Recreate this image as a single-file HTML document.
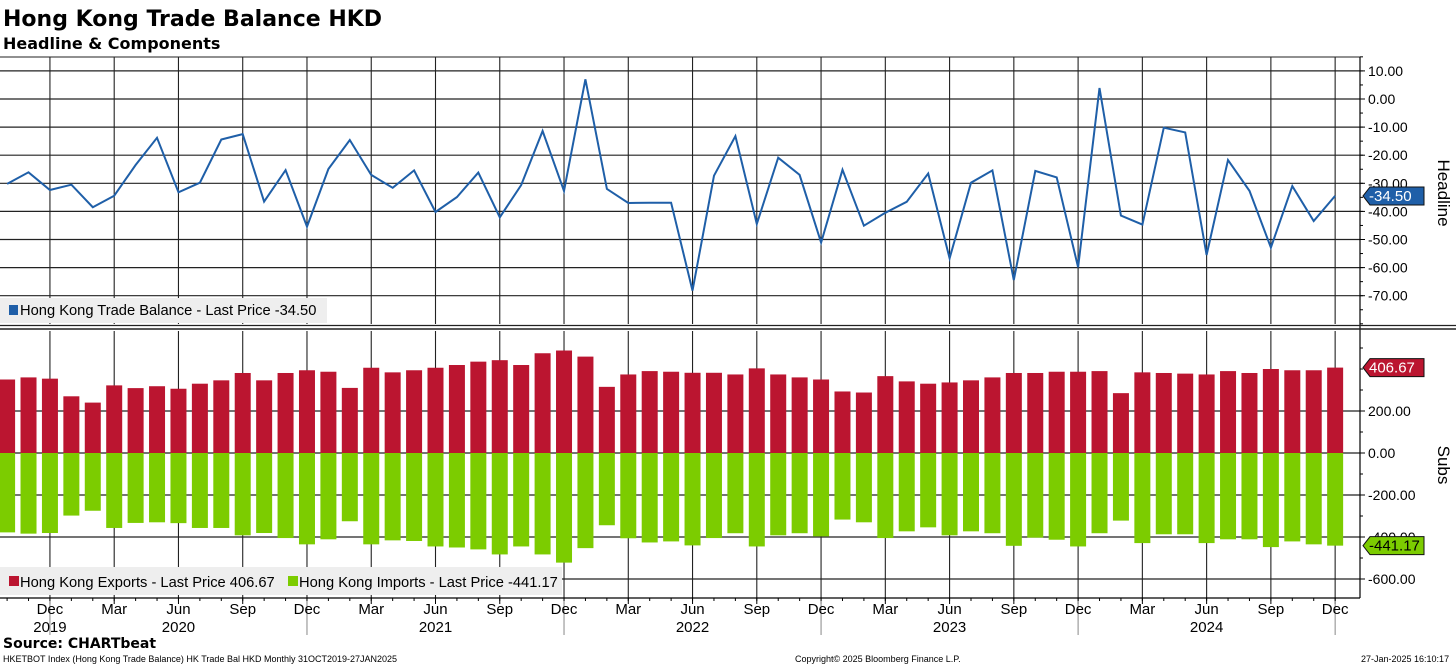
<!DOCTYPE html>
<html><head><meta charset="utf-8"><style>
html,body{margin:0;padding:0;background:#fff;}
svg{display:block;font-family:"Liberation Sans","DejaVu Sans",sans-serif;}
</style></head><body>
<svg id="chart" width="1456" height="665" viewBox="0 0 1456 665">
<text x="3" y="26" font-size="22" font-weight="bold" fill="#000" style="font-family:'DejaVu Sans',sans-serif">Hong Kong Trade Balance HKD</text>
<text x="3" y="49" font-size="16" font-weight="bold" fill="#000" style="font-family:'DejaVu Sans',sans-serif">Headline &amp; Components</text>
<g id="grid"></g>
<g id="bars"></g>
<g id="line"></g>
<g id="axes"></g>
<g>
<rect x="0" y="298" width="327" height="25" fill="#eeeeee"/>
<rect x="9" y="305" width="9" height="10" fill="#1f5fa8"/>
<text x="20" y="315" font-size="14.7" fill="#000">Hong Kong Trade Balance - Last Price -34.50</text>
</g>
<g>
<rect x="0" y="567" width="562" height="28" fill="#eeeeee"/>
<rect x="9" y="576" width="10" height="10" fill="#bb1530"/>
<text x="20" y="587" font-size="14.7" fill="#000">Hong Kong Exports - Last Price 406.67</text>
<rect x="288" y="576" width="10" height="10" fill="#7ccc00"/>
<text x="299" y="587" font-size="14.7" fill="#000">Hong Kong Imports - Last Price -441.17</text>
</g>
<text x="3" y="648" font-size="14" font-weight="bold" fill="#000" style="font-family:'DejaVu Sans',sans-serif">Source: CHARTbeat</text>
<text x="3" y="662" font-size="9" fill="#000">HKETBOT Index (Hong Kong Trade Balance) HK Trade Bal HKD  Monthly 31OCT2019-27JAN2025</text>
<text x="795" y="662" font-size="9" fill="#000">Copyright© 2025 Bloomberg Finance L.P.</text>
<text x="1361" y="662" font-size="9" fill="#000">27-Jan-2025 16:10:17</text>
</svg>
<script>
const headline = [-30.2,-26.1,-32.4,-30.5,-38.5,-34.4,-23.5,-13.8,-33.2,-29.8,-14.4,-12.5,-36.5,-25.3,-45.4,-24.9,-14.6,-27,-31.6,-25.4,-40.2,-34.9,-26.2,-42.1,-30.6,-11.4,-32.7,7,-32,-37,-36.9,-36.9,-68.2,-27.3,-13.2,-44.5,-20.9,-27,-51.1,-25.2,-45.1,-40.5,-36.6,-26.5,-56.7,-29.8,-25.4,-64.4,-25.6,-27.9,-59.9,3.9,-41.5,-44.7,-10.2,-11.9,-55.5,-21.7,-32.7,-52.9,-31,-43.4,-34.5];
const exportsVals = [350,360,354,270,240,322,309,318,306,330,346,381,346,381,394,387,310,406,384,394,406,419,435,442,419,475,488,459,315,374,390,387,382,382,374,403,374,360,350,293,288,366,341,330,336,346,360,381,381,387,387,390,285,384,381,378,374,390,381,400,394,394,406.67];
const importsVals = [-378,-384,-381,-298,-275,-357,-333,-330,-334,-357,-357,-392,-381,-405,-435,-411,-325,-435,-416,-419,-445,-450,-459,-483,-445,-483,-522,-453,-344,-406,-426,-421,-440,-405,-382,-445,-392,-382,-397,-317,-330,-405,-373,-354,-392,-373,-382,-442,-403,-413,-445,-382,-322,-429,-387,-387,-429,-411,-411,-448,-421,-435,-441.17];
const topTicks = [10,0,-10,-20,-30,-40,-50,-60,-70];
const bottomTicks = [200,0,-200,-400,-600];
const monthLabels = ["Dec","Mar","Jun","Sep"];
const yearLabels = ["2019","2020","2021","2022","2023","2024"];

const NS="http://www.w3.org/2000/svg";
const PL=0, PR=1360, TT=57, TB=324, BT=331, BB=598;
const x0=7.1, dx=21.42;
function xAt(i){return x0+i*dx;}
function yTop(v){return 99 - v*2.81;}
function yBot(v){return 453 - v*0.21;}
function mk(tag,attrs,parent){const e=document.createElementNS(NS,tag);for(const k in attrs)e.setAttribute(k,attrs[k]);parent.appendChild(e);return e;}
const grid=document.getElementById('grid'), bars=document.getElementById('bars'), line=document.getElementById('line'), axes=document.getElementById('axes');

topTicks.forEach(t=>{const l=mk('line',{x1:PL,x2:PR,y1:yTop(t),y2:yTop(t),stroke:'#222','stroke-width':1.2},grid);


const tk=mk('text',{x:PR+8,y:yTop(t)+5,'font-size':14,fill:'#000'},axes);tk.textContent=t.toFixed(2);


mk('line',{x1:PR,x2:PR+5,y1:yTop(t),y2:yTop(t),stroke:'#000'},axes);});
bottomTicks.forEach(t=>{const l=mk('line',{x1:PL,x2:PR,y1:yBot(t),y2:yBot(t),stroke:'#222','stroke-width':1.2},grid);


const tk=mk('text',{x:PR+8,y:yBot(t)+5,'font-size':14,fill:'#000'},axes);tk.textContent=t.toFixed(2);


mk('line',{x1:PR,x2:PR+5,y1:yBot(t),y2:yBot(t),stroke:'#000'},axes);});
for(let v=15;v>=-80;v-=5){mk('line',{x1:PR,x2:PR+3,y1:yTop(v),y2:yTop(v),stroke:'#000'},axes);}
for(let v=500;v>=-650;v-=100){mk('line',{x1:PR,x2:PR+3,y1:yBot(v),y2:yBot(v),stroke:'#000'},axes);}

let q=0;
for(let i=2;i<headline.length;i+=3){
  const x=xAt(i);
  const isDec=(q%4===0);
  mk('line',{x1:x,x2:x,y1:TT,y2:TB,stroke:'#222','stroke-width':1.1},grid);
  mk('line',{x1:x,x2:x,y1:BT,y2:BB,stroke:'#222','stroke-width':1.1},grid);
  mk('line',{x1:x,x2:x,y1:BB,y2:BB+6,stroke:'#000'},axes);
  if(isDec) mk('line',{x1:x,x2:x,y1:BB,y2:635,stroke:'#888'},axes);
  const t=mk('text',{x:x,y:614,'font-size':15,'text-anchor':'middle',fill:'#000'},axes);t.textContent=monthLabels[q%4];
  
  
  q++;
}
for(let i=0;i<headline.length;i++){mk('line',{x1:xAt(i),x2:xAt(i),y1:BB,y2:BB+3,stroke:'#000'},axes);}
yearLabels.forEach((y,k)=>{const idx=k===0?2:2+(k-1)*12+6;
const t=mk('text',{x:xAt(idx),y:632,'font-size':15,'text-anchor':'middle',fill:'#000'},axes);t.textContent=y;

});

const bw=16;
exportsVals.forEach((v,i)=>{const r=mk('rect',{x:xAt(i)-bw/2,y:yBot(v),width:bw,height:yBot(0)-yBot(v),fill:'#bb1530'},bars);

});
importsVals.forEach((v,i)=>{const r=mk('rect',{x:xAt(i)-bw/2,y:yBot(0),width:bw,height:yBot(v)-yBot(0),fill:'#7ccc00'},bars);

});

const pts=headline.map((v,i)=>xAt(i).toFixed(1)+','+yTop(v).toFixed(1)).join(' ');
const pl=mk('polyline',{points:pts,fill:'none',stroke:'#1f5fa8','stroke-width':2,'stroke-linejoin':'miter'},line);



mk('line',{x1:0,x2:PR,y1:TT,y2:TT,stroke:'#222'},axes);
mk('line',{x1:PR,x2:PR,y1:TT,y2:BB,stroke:'#000','stroke-width':1.2},axes);
mk('line',{x1:0,x2:1456,y1:325.5,y2:325.5,stroke:'#222','stroke-width':1.2},axes);
mk('line',{x1:0,x2:1456,y1:329,y2:329,stroke:'#222','stroke-width':1.5},axes);
mk('line',{x1:0,x2:PR,y1:BB,y2:BB,stroke:'#000','stroke-width':1.2},axes);

function vtitle(txt,x,y,name){const t=mk('text',{x:x,y:y,'font-size':17,fill:'#000',transform:`rotate(90 ${x} ${y})`,'text-anchor':'middle'},axes);t.textContent=txt;

}
vtitle('Headline',1438,193,'top-y-axis-title');
vtitle('Subs',1438,465,'bottom-y-axis-title');

function tag(v,y,fill,txtFill,name){const g=mk('g',{},axes);


mk('path',{d:`M${PR+3},${y} L${PR+10},${y-9} L1424,${y-9} L1424,${y+9} L${PR+10},${y+9} Z`,fill:fill,stroke:'#111'},g);
const t=mk('text',{x:1369,y:y+5,'font-size':15,fill:txtFill},g);t.textContent=v;}
tag('-34.50',yTop(headline[headline.length-1]),'#1f5fa8','#fff','headline-last-tag');
tag('406.67',yBot(exportsVals[exportsVals.length-1]),'#bb1530','#fff','exports-last-tag');
tag('-441.17',yBot(importsVals[importsVals.length-1]),'#7ccc00','#000','imports-last-tag');
</script>
</body></html>
